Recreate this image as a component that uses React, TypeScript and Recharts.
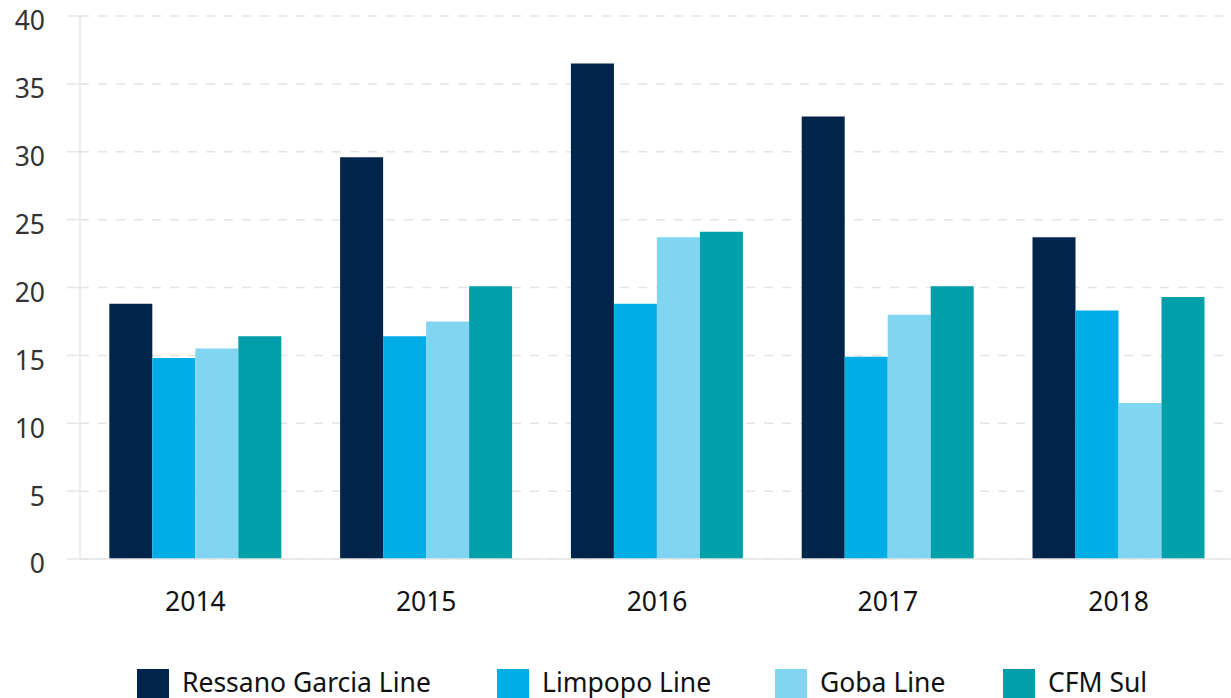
import { BarChart, Bar, XAxis, YAxis, CartesianGrid } from 'recharts';

const years = ['2014', '2015', '2016', '2017', '2018'];
const ressanoGarcia = [18.8, 29.6, 36.5, 32.6, 23.7];
const limpopo = [14.8, 16.4, 18.8, 14.9, 18.3];
const goba = [15.5, 17.5, 23.7, 18.0, 11.5];
const cfmSul = [16.4, 20.1, 24.1, 20.1, 19.3];
const yTicks = [0, 5, 10, 15, 20, 25, 30, 35, 40];

const series = [
  { key: 'ressano', name: 'Ressano Garcia Line', color: '#00244A' },
  { key: 'limpopo', name: 'Limpopo Line', color: '#00AEE5' },
  { key: 'goba', name: 'Goba Line', color: '#82D5F1' },
  { key: 'cfm', name: 'CFM Sul', color: '#009FAA' },
];

// legend item left edges, matched to the reference layout
const legendLeft = [137, 497, 775, 1003];

const data = years.map((year, i) => ({
  year,
  ressano: ressanoGarcia[i],
  limpopo: limpopo[i],
  goba: goba[i],
  cfm: cfmSul[i],
}));

const FONT = '"Noto Sans", sans-serif';

export default function App() {
  return (
    <div style={{ position: 'absolute', top: 0, left: 0, width: 1231, height: 698, fontFamily: FONT, overflow: 'hidden' }}>
      <BarChart
        width={1231}
        height={698}
        data={data}
        margin={{ top: 16, right: -3, left: 0, bottom: 0 }}
        barCategoryGap="12.7%"
        barGap={0}
      >
        <CartesianGrid vertical={false} stroke="#e4e4e4" strokeDasharray="9 9" strokeWidth={1.5} />
        <XAxis
          dataKey="year"
          height={139}
          tickLine={false}
          axisLine={{ stroke: '#e6e6e6', strokeWidth: 1.5 }}
          tickMargin={27}
          tick={{ fill: '#111', fontSize: 26.5, fontFamily: FONT }}
        />
        <YAxis
          width={80}
          domain={[0, 40]}
          ticks={yTicks}
          interval={0}
          tickSize={13}
          tickMargin={22}
          axisLine={{ stroke: '#e6e6e6', strokeWidth: 1.5 }}
          tickLine={{ stroke: '#e6e6e6', strokeWidth: 1.5 }}
          tick={{ fill: '#333', fontSize: 26.5, fontFamily: FONT, dy: 5 }}
        />
        {series.map(s => (
          <Bar key={s.key} dataKey={s.key} name={s.name} fill={s.color} isAnimationActive={false} />
        ))}
      </BarChart>
      {series.map((s, i) => (
        <div key={s.key} style={{ position: 'absolute', top: 667, left: legendLeft[i], display: 'flex', alignItems: 'flex-start' }}>
          <div style={{ width: 32, height: 32, marginTop: 2, background: s.color, marginRight: 13 }} />
          <span style={{ fontSize: 26.5, color: '#111', lineHeight: '30px', whiteSpace: 'nowrap' }}>{s.name}</span>
        </div>
      ))}
    </div>
  );
}
